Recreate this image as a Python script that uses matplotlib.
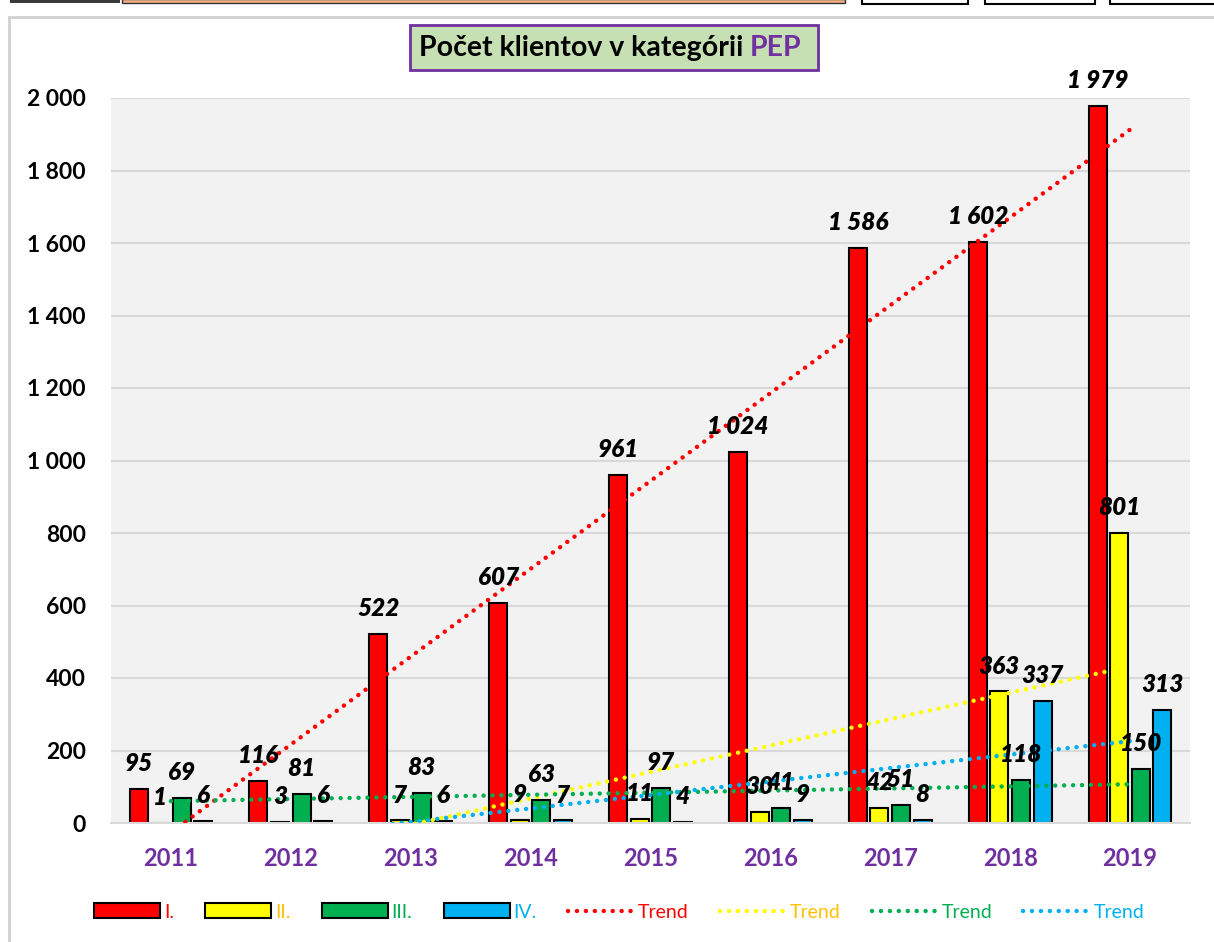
import numpy as np
import matplotlib
matplotlib.use("Agg")
import matplotlib.pyplot as plt
from matplotlib.patches import Rectangle, Patch
from matplotlib.lines import Line2D
from matplotlib.ticker import FuncFormatter

plt.rcParams['font.family'] = ['Lato', 'DejaVu Sans']

# data
years = ["2011", "2012", "2013", "2014", "2015", "2016", "2017", "2018", "2019"]
cat_i = [95, 116, 522, 607, 961, 1024, 1586, 1602, 1979]
cat_ii = [1, 3, 7, 9, 11, 30, 42, 363, 801]
cat_iii = [69, 81, 83, 63, 97, 41, 51, 118, 150]
cat_iv = [6, 6, 6, 7, 4, 9, 8, 337, 313]
series_names = ["I.", "II.", "III.", "IV."]

bar_colors = ["#ff0000", "#ffff00", "#00b050", "#00b0f0"]
text_colors = ["#ff0000", "#ffc000", "#00b050", "#00b0f0"]
purple = "#7030a0"

W, H = 1214, 942
fig = plt.figure(figsize=(W / 100, H / 100), dpi=100)

# chart frame and spreadsheet remnants at the top
fig.add_artist(Rectangle((9 / W, -0.01), 1.1, (H - 17) / H + 0.01, transform=fig.transFigure,
                         facecolor="white", edgecolor="#d0d0d0", linewidth=2, zorder=-10))
fig.add_artist(Rectangle((10 / W, (H - 3) / H), 110 / W, 4 / H, transform=fig.transFigure,
                         facecolor="#3a3a3a", edgecolor="none", zorder=-5))
fig.add_artist(Rectangle((122 / W, (H - 3) / H), 723 / W, 4 / H, transform=fig.transFigure,
                         facecolor="#f4b084", edgecolor="#333333", linewidth=1, zorder=-5))
for x0, x1 in [(862, 968), (985, 1095), (1110, 1216)]:
    fig.add_artist(Rectangle((x0 / W, (H - 4) / H), (x1 - x0) / W, 6 / H, transform=fig.transFigure,
                             facecolor="white", edgecolor="black", linewidth=1.5, zorder=-5))

ax = fig.add_axes([111 / W, 119 / H, 1079 / W, 725 / H])
ax.set_facecolor("#f2f2f2")

x = np.arange(len(years))
width = 0.15
step = 0.18
all_series = [cat_i, cat_ii, cat_iii, cat_iv]

for k, vals in enumerate(all_series):
    pos = x + (k - 1.5) * step
    ax.bar(pos, vals, width, color=bar_colors[k], edgecolor="black", linewidth=1.5, zorder=2)
    for px, v in zip(pos, vals):
        ax.annotate(f"{v:,}".replace(",", " "), (px, v), xytext=(0, 10), textcoords="offset points",
                    ha="center", va="bottom", fontsize=17.5, fontweight="heavy", fontstyle="italic",
                    color="black", zorder=5)

# linear trend lines
for k, vals in enumerate(all_series):
    slope, inter = np.polyfit(x, vals, 1)
    ax.plot(x, slope * x + inter, color=bar_colors[k], linewidth=3.2, linestyle=(0, (0.01, 2.0)),
            dash_capstyle="round", zorder=3)

ax.set_xlim(-0.5, len(years) - 0.5)
ax.set_ylim(0, 2000)
ax.set_yticks(np.arange(0, 2001, 200))
ax.yaxis.set_major_formatter(FuncFormatter(lambda v, p: f"{v:,.0f}".replace(",", " ")))
ax.set_xticks(x)
ax.set_xticklabels(years)
ax.grid(axis="y", color="#d9d9d9", linewidth=1.5, zorder=0)
ax.set_axisbelow(True)
for s in ["top", "right", "left"]:
    ax.spines[s].set_visible(False)
ax.spines["bottom"].set_color("#d9d9d9")
ax.spines["bottom"].set_linewidth(1.5)
ax.tick_params(axis="both", length=0)
ax.tick_params(axis="y", pad=18, labelsize=16.5)
ax.tick_params(axis="x", pad=17, labelsize=17, labelcolor=purple)
for lab in ax.get_yticklabels() + ax.get_xticklabels():
    lab.set_fontweight("bold")

# title box
fig.add_artist(Rectangle((410 / W, (H - 70) / H), 408 / W, 45 / H, transform=fig.transFigure,
                         facecolor="#c6e0b4", edgecolor=purple, linewidth=2, zorder=1))
t1 = fig.text(419 / W, (H - 48) / H, "Počet klientov v kategórii ", ha="left", va="center",
              fontsize=20.5, fontweight="bold", color="black", zorder=3)
t2 = fig.text(419 / W, (H - 48) / H, "PEP", ha="left", va="center",
              fontsize=20.5, fontweight="bold", color=purple, zorder=3)
# place PEP right after the first part
fig.canvas.draw()
bb = t1.get_window_extent()
t2.set_position((bb.x1 / W, (H - 48) / H))

# legend
handles = [Patch(facecolor=c, edgecolor="black", linewidth=1.5) for c in bar_colors]
handles += [Line2D([0], [0], color=c, linewidth=3.2, linestyle=(0, (0.01, 2.0)), dash_capstyle="round")
            for c in bar_colors]
labels = series_names + ["Trend"] * 4
leg = fig.legend(handles, labels, loc="center", bbox_to_anchor=(0.51, 30 / H), ncol=8, frameon=False,
                 fontsize=14, handlelength=3.4, handleheight=0.8, handletextpad=0.2, columnspacing=1.6)
for txt, c in zip(leg.get_texts(), text_colors + text_colors):
    txt.set_color(c)

fig.savefig("out.png", dpi=100)
